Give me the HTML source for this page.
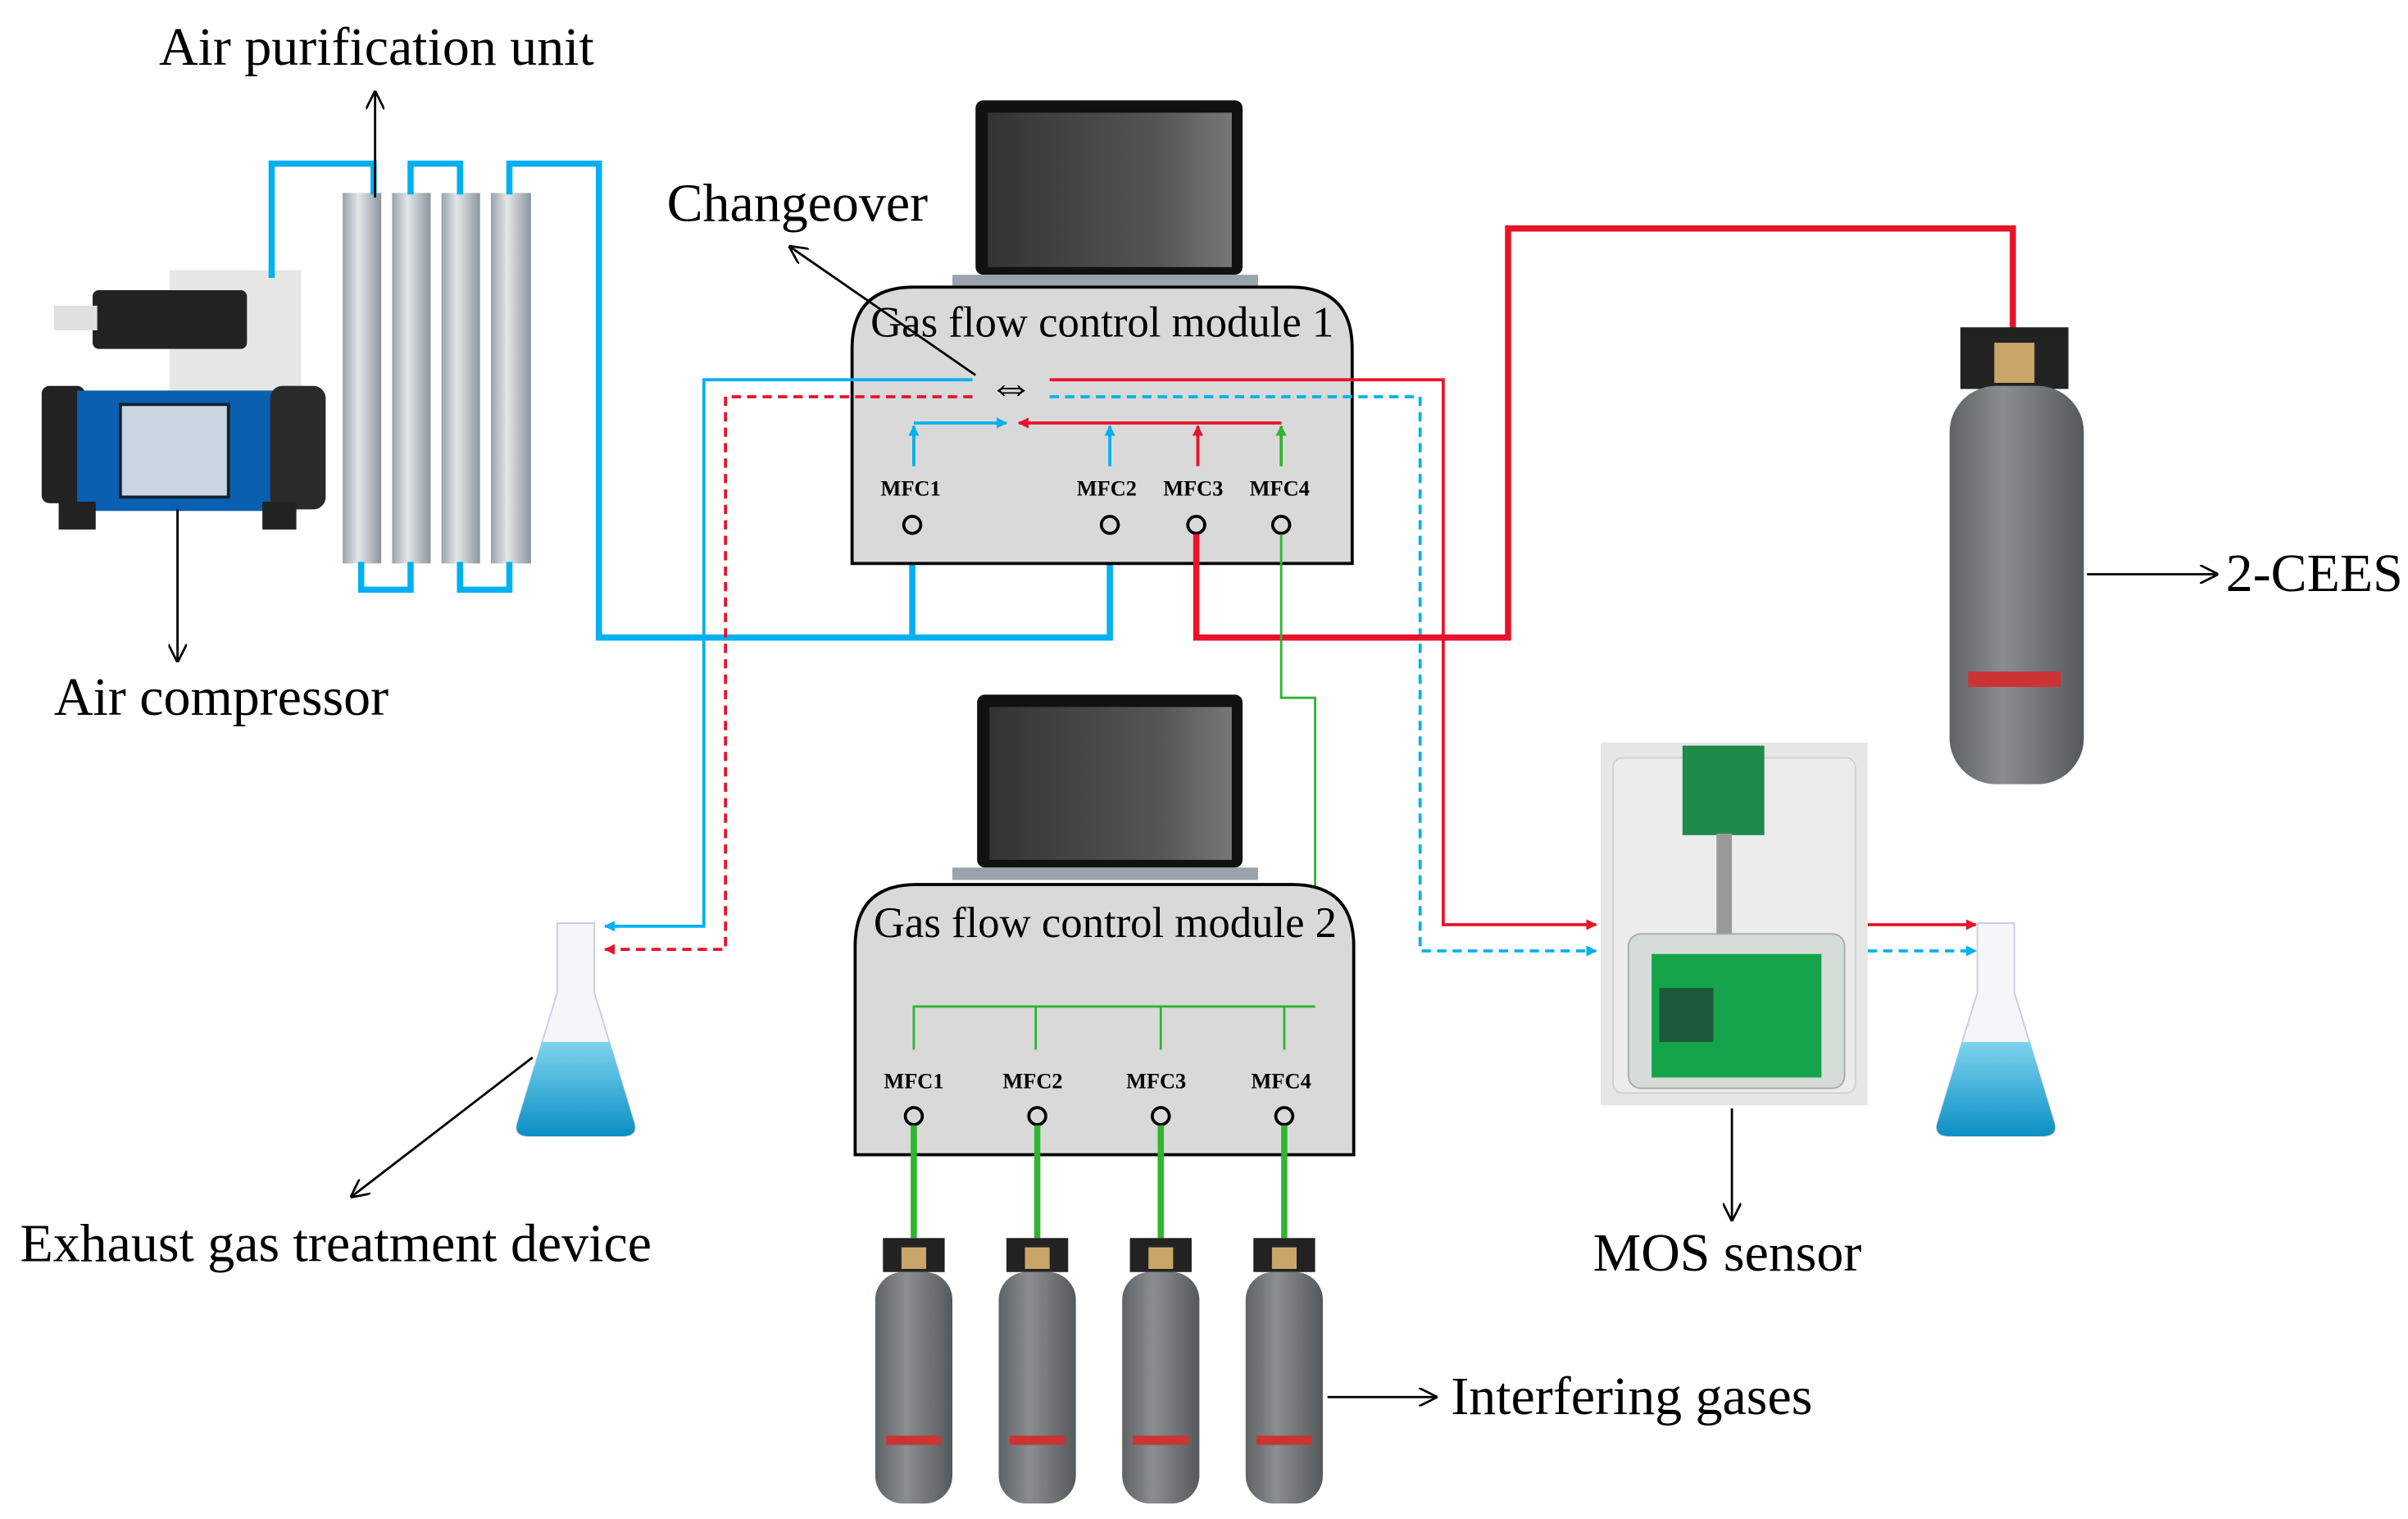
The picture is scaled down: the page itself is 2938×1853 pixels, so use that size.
<!DOCTYPE html>
<html><head><meta charset="utf-8"><style>
html,body{margin:0;padding:0;background:#fff}
svg{display:block}
text{font-family:"Liberation Serif",serif}
</style></head><body>
<svg width="2938" height="1853" viewBox="0 0 1560 984" preserveAspectRatio="none" xmlns="http://www.w3.org/2000/svg">
<defs>
<marker id="ab" viewBox="0 0 10 10" refX="9" refY="5" markerWidth="7" markerHeight="7" orient="auto-start-reverse" markerUnits="userSpaceOnUse"><path d="M0,0 L10,5 L0,10z" fill="#00b0f0"/></marker>
<marker id="ar" viewBox="0 0 10 10" refX="9" refY="5" markerWidth="7" markerHeight="7" orient="auto-start-reverse" markerUnits="userSpaceOnUse"><path d="M0,0 L10,5 L0,10z" fill="#e8132a"/></marker>
<marker id="ag" viewBox="0 0 10 10" refX="9" refY="5" markerWidth="7" markerHeight="7" orient="auto-start-reverse" markerUnits="userSpaceOnUse"><path d="M0,0 L10,5 L0,10z" fill="#2fb52f"/></marker>
<marker id="ak" viewBox="0 0 10 10" refX="9" refY="5" markerWidth="12" markerHeight="12" orient="auto-start-reverse" markerUnits="userSpaceOnUse"><path d="M0,0 L10,5 L0,10" fill="none" stroke="#000" stroke-width="1.2"/></marker>
<linearGradient id="tube" x1="0" x2="1"><stop offset="0" stop-color="#9aa3ab"/><stop offset="0.4" stop-color="#e3e7ea"/><stop offset="1" stop-color="#8d969e"/></linearGradient>
<linearGradient id="cyl" x1="0" x2="1"><stop offset="0" stop-color="#5f6366"/><stop offset="0.4" stop-color="#8a8e91"/><stop offset="1" stop-color="#55595c"/></linearGradient>
<linearGradient id="liq" x1="0" y1="0" x2="0" y2="1"><stop offset="0" stop-color="#7fd3ee"/><stop offset="1" stop-color="#0a8fc4"/></linearGradient>
<linearGradient id="scr" x1="0" x2="1"><stop offset="0" stop-color="#333"/><stop offset="0.7" stop-color="#555"/><stop offset="1" stop-color="#777"/></linearGradient>
</defs>

<text x="103" y="42" font-size="35">Air purification unit</text>
<text x="432" y="143" font-size="35">Changeover</text>
<text x="35" y="463" font-size="35">Air compressor</text>
<text x="13" y="817" font-size="35">Exhaust gas treatment device</text>
<text x="1032" y="823" font-size="35">MOS sensor</text>
<text x="940" y="916" font-size="35">Interfering gases</text>
<text x="1442" y="383" font-size="35">2-CEES</text>

<rect x="110" y="175" width="85" height="135" fill="#e6e6e6"/>
<rect x="60" y="188" width="100" height="38" rx="4" fill="#222"/>
<rect x="35" y="198" width="28" height="16" fill="#e0e0e0"/>
<rect x="27" y="250" width="28" height="76" rx="5" fill="#222"/>
<rect x="50" y="253" width="140" height="78" fill="#0b5fb0"/>
<rect x="78" y="262" width="70" height="60" fill="#c8d6e2" stroke="#123" stroke-width="2"/>
<rect x="175" y="250" width="36" height="80" rx="8" fill="#2a2a2a"/>
<rect x="38" y="325" width="24" height="18" fill="#222"/>
<rect x="170" y="325" width="22" height="18" fill="#222"/>
<line x1="115" y1="330" x2="115" y2="428" stroke="#000" stroke-width="1.5" marker-end="url(#ak)"/>

<g fill="url(#tube)">
<rect x="222" y="125" width="25" height="240"/><rect x="254" y="125" width="25" height="240"/>
<rect x="286" y="125" width="25" height="240"/><rect x="318" y="125" width="26" height="240"/>
</g>
<g fill="none" stroke="#00b0f0" stroke-width="4">
<polyline points="176,180 176,106 242,106 242,126"/>
<polyline points="266,126 266,106 298,106 298,126"/>
<polyline points="234,364 234,382 266,382 266,364"/>
<polyline points="298,364 298,382 330,382 330,364"/>
<polyline points="330,126 330,106 388,106 388,413 719,413 719,346"/>
<line x1="591" y1="413" x2="591" y2="346"/>
</g>
<line x1="243" y1="128" x2="243" y2="60" stroke="#000" stroke-width="1.5" marker-end="url(#ak)"/>

<rect x="632" y="65" width="173" height="113" rx="5" fill="#111"/>
<rect x="640" y="73" width="158" height="100" fill="url(#scr)"/>
<rect x="617" y="178" width="198" height="8" fill="#9aa3ab"/>

<path d="M552,365 V226 Q552,186 592,186 H836 Q876,186 876,226 V365 Z" fill="#d9d9d9" stroke="#000" stroke-width="2"/>
<text x="714" y="218" font-size="28" text-anchor="middle">Gas flow control module 1</text>
<line x1="632" y1="243" x2="512" y2="160" stroke="#000" stroke-width="1.5" marker-end="url(#ak)"/>
<text x="655" y="260" font-size="30" text-anchor="middle" font-family="DejaVu Sans, sans-serif">⇔</text>
<g font-size="14" font-weight="bold" text-anchor="middle">
<text x="590" y="321">MFC1</text><text x="717" y="321">MFC2</text><text x="773" y="321">MFC3</text><text x="829" y="321">MFC4</text>
</g>
<g fill="none" stroke="#000" stroke-width="2">
<circle cx="591" cy="340" r="5.5"/><circle cx="719" cy="340" r="5.5"/><circle cx="775" cy="340" r="5.5"/><circle cx="830" cy="340" r="5.5"/>
</g>
<g stroke-width="2" fill="none">
<line x1="592" y1="302" x2="592" y2="276" stroke="#00b0f0" marker-end="url(#ab)"/>
<polyline points="592,274 652,274" stroke="#00b0f0" marker-end="url(#ab)"/>
<polyline points="830,274 660,274" stroke="#e8132a" marker-end="url(#ar)"/>
<line x1="719" y1="302" x2="719" y2="276" stroke="#00b0f0" marker-end="url(#ab)"/>
<line x1="776" y1="302" x2="776" y2="276" stroke="#e8132a" marker-end="url(#ar)"/>
<line x1="830" y1="302" x2="830" y2="276" stroke="#2fb52f" marker-end="url(#ag)"/>
</g>
<g fill="none" stroke-width="2">
<polyline points="630,246 456,246 456,600 392,600" stroke="#00b0f0" marker-end="url(#ab)"/>
<polyline points="630,257 470,257 470,615 392,615" stroke="#e8132a" stroke-dasharray="6,4" marker-end="url(#ar)"/>
<polyline points="680,246 935,246 935,599 1034,599" stroke="#e8132a" marker-end="url(#ar)"/>
<polyline points="680,257 920,257 920,616 1034,616" stroke="#00b0f0" stroke-dasharray="6,4" marker-end="url(#ab)"/>
<line x1="1210" y1="599" x2="1280" y2="599" stroke="#e8132a" marker-end="url(#ar)"/>
<line x1="1210" y1="616" x2="1280" y2="616" stroke="#00b0f0" stroke-dasharray="6,4" marker-end="url(#ab)"/>
</g>
<polyline points="775,346 775,413 977,413 977,148 1304,148 1304,215" fill="none" stroke="#e8132a" stroke-width="4"/>
<polyline points="830,346 830,452 852,452 852,652" fill="none" stroke="#2fb52f" stroke-width="1.5"/>

<rect x="633" y="450" width="172" height="112" rx="5" fill="#111"/>
<rect x="641" y="458" width="157" height="99" fill="url(#scr)"/>
<rect x="617" y="562" width="198" height="8" fill="#9aa3ab"/>

<path d="M554,748 V613 Q554,573 594,573 H837 Q877,573 877,613 V748 Z" fill="#d9d9d9" stroke="#000" stroke-width="2"/>
<text x="716" y="607" font-size="28" text-anchor="middle">Gas flow control module 2</text>
<g fill="none" stroke="#2fb52f" stroke-width="1.5">
<polyline points="592,680 592,652 852,652"/>
<line x1="671" y1="652" x2="671" y2="680"/><line x1="752" y1="652" x2="752" y2="680"/><line x1="832" y1="652" x2="832" y2="680"/>
</g>
<g font-size="14" font-weight="bold" text-anchor="middle">
<text x="592" y="705">MFC1</text><text x="669" y="705">MFC2</text><text x="749" y="705">MFC3</text><text x="830" y="705">MFC4</text>
</g>
<g fill="none" stroke="#000" stroke-width="2">
<circle cx="592" cy="723" r="5.5"/><circle cx="672" cy="723" r="5.5"/><circle cx="752" cy="723" r="5.5"/><circle cx="832" cy="723" r="5.5"/>
</g>
<g stroke="#2fb52f" stroke-width="4">
<line x1="592" y1="729" x2="592" y2="802"/><line x1="672" y1="729" x2="672" y2="802"/><line x1="752" y1="729" x2="752" y2="802"/><line x1="832" y1="729" x2="832" y2="802"/>
</g>
<g>
<g transform="translate(592,0)"><path d="M-20,802 h40 v22 h-40z" fill="#222"/><rect x="-8" y="808" width="16" height="14" fill="#c9a56a"/><rect x="-25" y="824" width="50" height="150" rx="18" fill="url(#cyl)"/><rect x="-18" y="930" width="36" height="6" fill="#c33"/></g>
<g transform="translate(672,0)"><path d="M-20,802 h40 v22 h-40z" fill="#222"/><rect x="-8" y="808" width="16" height="14" fill="#c9a56a"/><rect x="-25" y="824" width="50" height="150" rx="18" fill="url(#cyl)"/><rect x="-18" y="930" width="36" height="6" fill="#c33"/></g>
<g transform="translate(752,0)"><path d="M-20,802 h40 v22 h-40z" fill="#222"/><rect x="-8" y="808" width="16" height="14" fill="#c9a56a"/><rect x="-25" y="824" width="50" height="150" rx="18" fill="url(#cyl)"/><rect x="-18" y="930" width="36" height="6" fill="#c33"/></g>
<g transform="translate(832,0)"><path d="M-20,802 h40 v22 h-40z" fill="#222"/><rect x="-8" y="808" width="16" height="14" fill="#c9a56a"/><rect x="-25" y="824" width="50" height="150" rx="18" fill="url(#cyl)"/><rect x="-18" y="930" width="36" height="6" fill="#c33"/></g>
</g>
<line x1="860" y1="905" x2="930" y2="905" stroke="#000" stroke-width="1.5" marker-end="url(#ak)"/>

<path d="M1270,212 h70 v40 h-70z" fill="#222"/>
<rect x="1292" y="222" width="26" height="26" fill="#c9a56a"/>
<rect x="1263" y="250" width="87" height="258" rx="30" fill="url(#cyl)"/>
<rect x="1275" y="435" width="60" height="10" fill="#c33"/>
<line x1="1352" y1="372" x2="1436" y2="372" stroke="#000" stroke-width="1.5" marker-end="url(#ak)"/>

<rect x="1037" y="481" width="173" height="235" fill="#e6e6e6"/>
<rect x="1045" y="491" width="157" height="217" rx="6" fill="#ececec" stroke="#d0d0d0"/>
<rect x="1090" y="483" width="53" height="58" fill="#1f8a4a"/>
<rect x="1112" y="540" width="10" height="66" fill="#999"/>
<rect x="1055" y="605" width="140" height="100" rx="8" fill="#d6dcd8" stroke="#aaa"/>
<rect x="1070" y="618" width="110" height="80" fill="#14a44a"/>
<rect x="1075" y="640" width="35" height="35" fill="#1a5a3a"/>
<line x1="1122" y1="718" x2="1122" y2="790" stroke="#000" stroke-width="1.5" marker-end="url(#ak)"/>

<g transform="translate(373,0)">
<path d="M-12,598 h24 v45 l26,85 q2,8 -8,8 h-60 q-10,0 -8,-8 l26,-85z" fill="#f4f6f7" stroke="#ccd" stroke-width="1"/>
<path d="M-22,675 h44 l16,53 q2,8 -8,8 h-60 q-10,0 -8,-8z" fill="url(#liq)"/>
</g>
<g transform="translate(1293,0)">
<path d="M-12,598 h24 v45 l26,85 q2,8 -8,8 h-60 q-10,0 -8,-8 l26,-85z" fill="#f4f6f7" stroke="#ccd" stroke-width="1"/>
<path d="M-22,675 h44 l16,53 q2,8 -8,8 h-60 q-10,0 -8,-8z" fill="url(#liq)"/>
</g>
<line x1="345" y1="685" x2="228" y2="775" stroke="#000" stroke-width="1.5" marker-end="url(#ak)"/>
</svg>
</body></html>
